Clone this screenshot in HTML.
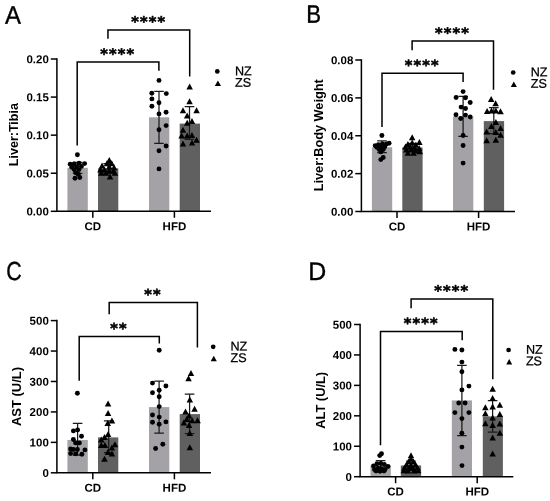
<!DOCTYPE html>
<html><head><meta charset="utf-8"><title>Figure</title>
<style>
html,body{margin:0;padding:0;background:#fff;}
svg{display:block;}
text{font-family:"Liberation Sans",Arial,sans-serif;fill:#000;}
.tk{font-size:11.5px;font-weight:700;}
.yt{font-size:12.4px;font-weight:700;}
.lg{font-size:12.6px;stroke:#000;stroke-width:0.25px;}
.st{font-family:"DejaVu Sans","Liberation Sans",sans-serif;font-size:14.5px;font-weight:700;letter-spacing:1.17px;stroke:#000;stroke-width:0.6px;stroke-linejoin:round;}
.pl{font-size:100px;stroke:#000;stroke-width:1.4px;}
</style></head>
<body>
<svg width="550" height="501" viewBox="0 0 550 501">
<rect width="550" height="501" fill="#fff"/>
<rect x="67.4" y="167.8" width="20.4" height="43.5" fill="#a4a2a7"/>
<rect x="98.0" y="168.3" width="20.3" height="43.0" fill="#606061"/>
<rect x="149.0" y="117.3" width="20.3" height="94.0" fill="#a4a2a7"/>
<rect x="179.7" y="123.6" width="20.3" height="87.7" fill="#606061"/>
<path d="M56.9 58.25V211.3H211" stroke="#000" stroke-width="1.5" fill="none" stroke-linejoin="miter"/>
<path d="M50.8 211.30H56.9" stroke="#000" stroke-width="1.5"/>
<text x="48.80" y="215.50" transform="rotate(0.03 48.80 215.50)" text-anchor="end" class="tk">0.00</text>
<path d="M50.8 173.23H56.9" stroke="#000" stroke-width="1.5"/>
<text x="48.80" y="177.43" transform="rotate(0.03 48.80 177.43)" text-anchor="end" class="tk">0.05</text>
<path d="M50.8 135.15H56.9" stroke="#000" stroke-width="1.5"/>
<text x="48.80" y="139.35" transform="rotate(0.03 48.80 139.35)" text-anchor="end" class="tk">0.10</text>
<path d="M50.8 97.08H56.9" stroke="#000" stroke-width="1.5"/>
<text x="48.80" y="101.28" transform="rotate(0.03 48.80 101.28)" text-anchor="end" class="tk">0.15</text>
<path d="M50.8 59.00H56.9" stroke="#000" stroke-width="1.5"/>
<text x="48.80" y="63.20" transform="rotate(0.03 48.80 63.20)" text-anchor="end" class="tk">0.20</text>
<path d="M92.8 211.3V217.8" stroke="#000" stroke-width="1.5"/>
<text x="92.80" y="230.20" transform="rotate(0.03 92.80 230.20)" text-anchor="middle" class="tk">CD</text>
<path d="M174.4 211.3V217.8" stroke="#000" stroke-width="1.5"/>
<text x="174.40" y="230.20" transform="rotate(0.03 174.40 230.20)" text-anchor="middle" class="tk">HFD</text>
<text transform="translate(18.4 134.6) rotate(-90) scale(1.01 1)" text-anchor="middle" class="yt">Liver:Tibia</text>
<path d="M77.6 162.3V173.3M72.8 162.3H82.4M72.8 173.3H82.4" stroke="#1a1a1a" stroke-width="1.25" fill="none"/>
<path d="M108.2 163.6V173.0M103.4 163.6H113.0M103.4 173.0H113.0" stroke="#1a1a1a" stroke-width="1.25" fill="none"/>
<path d="M159.0 91.3V143.3M154.2 91.3H163.8M154.2 143.3H163.8" stroke="#1a1a1a" stroke-width="1.25" fill="none"/>
<path d="M189.5 106.6V139.4M184.7 106.6H194.3M184.7 139.4H194.3" stroke="#1a1a1a" stroke-width="1.25" fill="none"/>
<g fill="#000">
<circle cx="77.4" cy="154.7" r="2.45"/><circle cx="70.2" cy="164.3" r="2.45"/><circle cx="74.2" cy="164.0" r="2.45"/><circle cx="79.0" cy="163.2" r="2.45"/><circle cx="84.6" cy="163.6" r="2.45"/><circle cx="71.8" cy="167.2" r="2.45"/><circle cx="76.6" cy="166.8" r="2.45"/><circle cx="81.4" cy="166.4" r="2.45"/><circle cx="74.2" cy="169.6" r="2.45"/><circle cx="79.0" cy="169.6" r="2.45"/><circle cx="75.8" cy="172.7" r="2.45"/><circle cx="78.2" cy="174.3" r="2.45"/><circle cx="75.0" cy="178.3" r="2.45"/><circle cx="79.8" cy="177.5" r="2.45"/>
<circle cx="159.0" cy="80.4" r="2.45"/><circle cx="151.8" cy="93.3" r="2.45"/><circle cx="166.3" cy="93.6" r="2.45"/><circle cx="151.9" cy="98.9" r="2.45"/><circle cx="159.0" cy="102.7" r="2.45"/><circle cx="151.9" cy="106.3" r="2.45"/><circle cx="166.1" cy="112.2" r="2.45"/><circle cx="159.0" cy="113.9" r="2.45"/><circle cx="166.1" cy="125.6" r="2.45"/><circle cx="159.0" cy="129.7" r="2.45"/><circle cx="166.1" cy="146.0" r="2.45"/><circle cx="159.0" cy="150.8" r="2.45"/><circle cx="159.0" cy="168.9" r="2.45"/>
<path d="M109.3 157.0L112.5 163.0H106.0Z"/><path d="M106.9 160.2L110.2 166.2H103.7Z"/><path d="M111.7 160.2L115.0 166.2H108.5Z"/><path d="M102.1 162.6L105.3 168.6H98.8Z"/><path d="M109.3 163.4L112.5 169.4H106.0Z"/><path d="M114.1 164.2L117.3 170.2H110.8Z"/><path d="M100.5 166.6L103.8 172.6H97.2Z"/><path d="M104.5 166.6L107.8 172.6H101.2Z"/><path d="M109.3 167.4L112.5 173.4H106.0Z"/><path d="M113.3 167.4L116.5 173.4H110.0Z"/><path d="M101.3 169.7L104.5 175.7H98.0Z"/><path d="M106.1 169.7L109.3 175.7H102.8Z"/><path d="M114.9 169.7L118.2 175.7H111.7Z"/><path d="M110.1 173.4L113.3 179.4H106.8Z"/>
<path d="M189.7 83.5L192.9 89.5H186.4Z"/><path d="M189.6 98.2L192.8 104.2H186.3Z"/><path d="M183.0 107.2L186.2 113.2H179.8Z"/><path d="M196.6 107.2L199.8 113.2H193.3Z"/><path d="M187.2 112.6L190.4 118.6H183.9Z"/><path d="M192.0 117.9L195.2 123.9H188.8Z"/><path d="M187.2 119.7L190.4 125.7H183.9Z"/><path d="M183.0 126.7L186.2 132.7H179.8Z"/><path d="M181.7 132.4L184.9 138.4H178.4Z"/><path d="M187.2 132.4L190.4 138.4H183.9Z"/><path d="M192.0 132.0L195.2 138.0H188.8Z"/><path d="M196.6 136.8L199.8 142.8H193.3Z"/><path d="M183.0 140.5L186.2 146.5H179.8Z"/><path d="M192.0 139.4L195.2 145.4H188.8Z"/>
</g>
<path d="M77.2 145.4V62.0H158.9V70.8" stroke="#000" stroke-width="1.5" fill="none"/>
<path d="M107.95 38.8V29.9H189.7V76.6" stroke="#000" stroke-width="1.5" fill="none"/>
<text x="100.36" y="58.90" transform="rotate(0.03 100.36 58.90)" class="st">****</text>
<text x="131.13" y="26.80" transform="rotate(0.03 131.13 26.80)" class="st">****</text>
<circle cx="217.3" cy="71.4" r="2.35"/>
<path d="M217.9 80.4L221.0 85.9H214.8Z"/>
<text x="235.00" y="75.20" transform="rotate(0.03 235.00 75.20)" class="lg">NZ</text>
<text x="235.00" y="86.70" transform="rotate(0.03 235.00 86.70)" class="lg">ZS</text>
<text transform="translate(4.9 23.8) rotate(0.03) scale(0.2394 0.2536)" class="pl">A</text>
<rect x="371.9" y="147.2" width="20.3" height="64.3" fill="#a4a2a7"/>
<rect x="402.3" y="147.5" width="20.3" height="64.0" fill="#606061"/>
<rect x="453.0" y="116.5" width="20.3" height="95.0" fill="#a4a2a7"/>
<rect x="483.8" y="121.1" width="20.3" height="90.4" fill="#606061"/>
<path d="M361.4 59.25V211.5H515" stroke="#000" stroke-width="1.5" fill="none" stroke-linejoin="miter"/>
<path d="M355.3 211.50H361.4" stroke="#000" stroke-width="1.5"/>
<text x="353.30" y="215.70" transform="rotate(0.03 353.30 215.70)" text-anchor="end" class="tk">0.00</text>
<path d="M355.3 173.62H361.4" stroke="#000" stroke-width="1.5"/>
<text x="353.30" y="177.82" transform="rotate(0.03 353.30 177.82)" text-anchor="end" class="tk">0.02</text>
<path d="M355.3 135.75H361.4" stroke="#000" stroke-width="1.5"/>
<text x="353.30" y="139.95" transform="rotate(0.03 353.30 139.95)" text-anchor="end" class="tk">0.04</text>
<path d="M355.3 97.88H361.4" stroke="#000" stroke-width="1.5"/>
<text x="353.30" y="102.08" transform="rotate(0.03 353.30 102.08)" text-anchor="end" class="tk">0.06</text>
<path d="M355.3 60.00H361.4" stroke="#000" stroke-width="1.5"/>
<text x="353.30" y="64.20" transform="rotate(0.03 353.30 64.20)" text-anchor="end" class="tk">0.08</text>
<path d="M397 211.5V218.0" stroke="#000" stroke-width="1.5"/>
<text x="397.00" y="230.40" transform="rotate(0.03 397.00 230.40)" text-anchor="middle" class="tk">CD</text>
<path d="M478.6 211.5V218.0" stroke="#000" stroke-width="1.5"/>
<text x="478.60" y="230.40" transform="rotate(0.03 478.60 230.40)" text-anchor="middle" class="tk">HFD</text>
<text transform="translate(323.2 135.3) rotate(-90) scale(1.025 1)" text-anchor="middle" class="yt">Liver:Body Weight</text>
<path d="M382.0 140.8V152.7M377.2 140.8H386.8M377.2 152.7H386.8" stroke="#1a1a1a" stroke-width="1.25" fill="none"/>
<path d="M412.4 143.3V151.2M407.6 143.3H417.2M407.6 151.2H417.2" stroke="#1a1a1a" stroke-width="1.25" fill="none"/>
<path d="M463.1 96.3V136.3M458.3 96.3H467.9M458.3 136.3H467.9" stroke="#1a1a1a" stroke-width="1.25" fill="none"/>
<path d="M493.8 107.7V133.6M489.0 107.7H498.6M489.0 133.6H498.6" stroke="#1a1a1a" stroke-width="1.25" fill="none"/>
<g fill="#000">
<circle cx="381.9" cy="135.5" r="2.45"/><circle cx="375.2" cy="145.6" r="2.45"/><circle cx="378.4" cy="144.8" r="2.45"/><circle cx="382.4" cy="144.0" r="2.45"/><circle cx="386.4" cy="144.0" r="2.45"/><circle cx="389.1" cy="143.2" r="2.45"/><circle cx="376.8" cy="147.2" r="2.45"/><circle cx="380.8" cy="147.2" r="2.45"/><circle cx="384.8" cy="146.8" r="2.45"/><circle cx="379.2" cy="149.6" r="2.45"/><circle cx="383.2" cy="149.6" r="2.45"/><circle cx="380.8" cy="151.9" r="2.45"/><circle cx="383.2" cy="157.5" r="2.45"/><circle cx="380.8" cy="159.6" r="2.45"/>
<circle cx="463.1" cy="91.6" r="2.45"/><circle cx="456.1" cy="97.5" r="2.45"/><circle cx="465.5" cy="97.8" r="2.45"/><circle cx="470.2" cy="102.5" r="2.45"/><circle cx="461.1" cy="107.1" r="2.45"/><circle cx="465.5" cy="108.5" r="2.45"/><circle cx="456.0" cy="114.7" r="2.45"/><circle cx="465.5" cy="115.1" r="2.45"/><circle cx="460.7" cy="118.5" r="2.45"/><circle cx="470.2" cy="117.0" r="2.45"/><circle cx="463.1" cy="135.5" r="2.45"/><circle cx="463.1" cy="145.5" r="2.45"/><circle cx="463.1" cy="163.1" r="2.45"/>
<path d="M412.2 134.3L415.4 140.3H408.9Z"/><path d="M419.4 139.0L422.6 145.0H416.1Z"/><path d="M412.2 139.4L415.4 145.4H408.9Z"/><path d="M407.9 141.0L411.1 147.0H404.6Z"/><path d="M415.9 141.8L419.1 147.8H412.6Z"/><path d="M405.5 143.4L408.8 149.4H402.2Z"/><path d="M410.3 143.4L413.6 149.4H407.1Z"/><path d="M414.3 144.2L417.6 150.2H411.1Z"/><path d="M419.1 145.0L422.4 151.0H415.9Z"/><path d="M406.3 146.6L409.6 152.6H403.1Z"/><path d="M411.1 146.6L414.4 152.6H407.9Z"/><path d="M415.9 147.4L419.1 153.4H412.6Z"/><path d="M419.9 148.2L423.1 154.2H416.6Z"/><path d="M407.9 149.7L411.1 155.7H404.6Z"/><path d="M413.5 149.7L416.8 155.7H410.2Z"/>
<path d="M491.2 96.0L494.4 102.0H487.9Z"/><path d="M495.6 100.2L498.9 106.2H492.4Z"/><path d="M487.1 107.9L490.4 113.9H483.9Z"/><path d="M491.5 107.4L494.8 113.4H488.2Z"/><path d="M495.9 107.4L499.1 113.4H492.6Z"/><path d="M500.5 108.3L503.8 114.3H497.2Z"/><path d="M495.9 119.1L499.1 125.1H492.6Z"/><path d="M491.4 122.9L494.6 128.9H488.1Z"/><path d="M500.6 125.1L503.9 131.1H497.4Z"/><path d="M486.6 128.4L489.9 134.4H483.4Z"/><path d="M495.8 129.1L499.1 135.1H492.6Z"/><path d="M500.6 131.7L503.9 137.7H497.4Z"/><path d="M486.6 137.2L489.9 143.2H483.4Z"/><path d="M495.8 136.8L499.1 142.8H492.6Z"/>
</g>
<path d="M382 127V73.3H463.1V82" stroke="#000" stroke-width="1.5" fill="none"/>
<path d="M412.1 50.2V41.0H493.5V89.8" stroke="#000" stroke-width="1.5" fill="none"/>
<text x="404.86" y="70.20" transform="rotate(0.03 404.86 70.20)" class="st">****</text>
<text x="435.11" y="37.90" transform="rotate(0.03 435.11 37.90)" class="st">****</text>
<circle cx="513.2" cy="72.5" r="2.35"/>
<path d="M513.8 81.5L516.9 87.0H510.8Z"/>
<text x="530.70" y="76.30" transform="rotate(0.03 530.70 76.30)" class="lg">NZ</text>
<text x="530.70" y="87.80" transform="rotate(0.03 530.70 87.80)" class="lg">ZS</text>
<text transform="translate(306.3 22.7) rotate(0.03) scale(0.2226 0.2536)" class="pl">B</text>
<rect x="67.4" y="440.0" width="20.4" height="32.8" fill="#a4a2a7"/>
<rect x="98.0" y="437.4" width="20.3" height="35.4" fill="#606061"/>
<rect x="149.0" y="407.1" width="20.3" height="65.7" fill="#a4a2a7"/>
<rect x="179.7" y="414.1" width="20.3" height="58.7" fill="#606061"/>
<path d="M56.9 319.85V472.8H211" stroke="#000" stroke-width="1.5" fill="none" stroke-linejoin="miter"/>
<path d="M50.8 472.80H56.9" stroke="#000" stroke-width="1.5"/>
<text x="48.80" y="477.00" transform="rotate(0.03 48.80 477.00)" text-anchor="end" class="tk">0</text>
<path d="M50.8 442.36H56.9" stroke="#000" stroke-width="1.5"/>
<text x="48.80" y="446.56" transform="rotate(0.03 48.80 446.56)" text-anchor="end" class="tk">100</text>
<path d="M50.8 411.92H56.9" stroke="#000" stroke-width="1.5"/>
<text x="48.80" y="416.12" transform="rotate(0.03 48.80 416.12)" text-anchor="end" class="tk">200</text>
<path d="M50.8 381.48H56.9" stroke="#000" stroke-width="1.5"/>
<text x="48.80" y="385.68" transform="rotate(0.03 48.80 385.68)" text-anchor="end" class="tk">300</text>
<path d="M50.8 351.04H56.9" stroke="#000" stroke-width="1.5"/>
<text x="48.80" y="355.24" transform="rotate(0.03 48.80 355.24)" text-anchor="end" class="tk">400</text>
<path d="M50.8 320.60H56.9" stroke="#000" stroke-width="1.5"/>
<text x="48.80" y="324.80" transform="rotate(0.03 48.80 324.80)" text-anchor="end" class="tk">500</text>
<path d="M92.8 472.8V479.3" stroke="#000" stroke-width="1.5"/>
<text x="92.80" y="491.70" transform="rotate(0.03 92.80 491.70)" text-anchor="middle" class="tk">CD</text>
<path d="M174.4 472.8V479.3" stroke="#000" stroke-width="1.5"/>
<text x="174.40" y="491.70" transform="rotate(0.03 174.40 491.70)" text-anchor="middle" class="tk">HFD</text>
<text transform="translate(21.1 396.5) rotate(-90) scale(1.045 1)" text-anchor="middle" class="yt">AST (U/L)</text>
<path d="M77.6 423.4V455.2M72.8 423.4H82.4M72.8 455.2H82.4" stroke="#1a1a1a" stroke-width="1.25" fill="none"/>
<path d="M108.7 420.9V452.7M103.9 420.9H113.5M103.9 452.7H113.5" stroke="#1a1a1a" stroke-width="1.25" fill="none"/>
<path d="M159.1 381.1V433.1M154.3 381.1H163.9M154.3 433.1H163.9" stroke="#1a1a1a" stroke-width="1.25" fill="none"/>
<path d="M189.6 394.0V433.7M184.8 394.0H194.4M184.8 433.7H194.4" stroke="#1a1a1a" stroke-width="1.25" fill="none"/>
<g fill="#000">
<circle cx="77.4" cy="393.2" r="2.45"/><circle cx="73.4" cy="430.9" r="2.45"/><circle cx="77.6" cy="429.9" r="2.45"/><circle cx="81.5" cy="436.3" r="2.45"/><circle cx="73.4" cy="439.5" r="2.45"/><circle cx="75.6" cy="442.9" r="2.45"/><circle cx="79.4" cy="442.9" r="2.45"/><circle cx="70.6" cy="448.9" r="2.45"/><circle cx="73.4" cy="449.5" r="2.45"/><circle cx="77.4" cy="449.5" r="2.45"/><circle cx="84.9" cy="449.9" r="2.45"/><circle cx="70.6" cy="453.5" r="2.45"/><circle cx="75.6" cy="453.9" r="2.45"/><circle cx="81.9" cy="454.3" r="2.45"/>
<circle cx="159.2" cy="350.3" r="2.45"/><circle cx="152.5" cy="383.1" r="2.45"/><circle cx="165.9" cy="386.0" r="2.45"/><circle cx="159.2" cy="390.3" r="2.45"/><circle cx="152.5" cy="392.7" r="2.45"/><circle cx="159.2" cy="396.8" r="2.45"/><circle cx="159.2" cy="406.6" r="2.45"/><circle cx="152.5" cy="415.0" r="2.45"/><circle cx="159.2" cy="417.1" r="2.45"/><circle cx="152.5" cy="422.2" r="2.45"/><circle cx="165.9" cy="421.9" r="2.45"/><circle cx="159.2" cy="424.3" r="2.45"/><circle cx="162.8" cy="444.2" r="2.45"/><circle cx="155.6" cy="448.5" r="2.45"/>
<path d="M108.1 400.6L111.3 406.6H104.8Z"/><path d="M108.1 409.9L111.3 415.9H104.8Z"/><path d="M111.9 417.5L115.2 423.5H108.7Z"/><path d="M107.7 419.9L111.0 425.9H104.5Z"/><path d="M108.1 430.9L111.3 436.9H104.8Z"/><path d="M104.5 433.9L107.8 439.9H101.2Z"/><path d="M101.3 436.5L104.5 442.5H98.0Z"/><path d="M101.3 441.9L104.5 447.9H98.0Z"/><path d="M104.9 441.9L108.2 447.9H101.7Z"/><path d="M114.9 441.3L118.2 447.3H111.7Z"/><path d="M111.9 444.5L115.2 450.5H108.7Z"/><path d="M107.9 448.9L111.2 454.9H104.7Z"/><path d="M111.9 450.5L115.2 456.5H108.7Z"/><path d="M104.5 455.8L107.8 461.8H101.2Z"/>
<path d="M191.0 370.1L194.2 376.1H187.8Z"/><path d="M188.6 375.3L191.8 381.3H185.3Z"/><path d="M189.8 396.4L193.1 402.4H186.6Z"/><path d="M194.6 405.7L197.8 411.7H191.3Z"/><path d="M185.5 408.4L188.8 414.4H182.2Z"/><path d="M189.1 412.4L192.3 418.4H185.8Z"/><path d="M183.8 419.6L187.1 425.6H180.6Z"/><path d="M186.7 416.0L189.9 422.0H183.4Z"/><path d="M192.2 417.2L195.4 423.2H188.9Z"/><path d="M197.5 417.2L200.8 423.2H194.2Z"/><path d="M189.1 422.0L192.3 428.0H185.8Z"/><path d="M189.8 429.9L193.1 435.9H186.6Z"/><path d="M189.8 444.3L193.1 450.3H186.6Z"/>
</g>
<path d="M79.2 380.7V336.6H159.3V343.4" stroke="#000" stroke-width="1.5" fill="none"/>
<path d="M109.2 314.3V302.5H197.4V347.4" stroke="#000" stroke-width="1.5" fill="none"/>
<text x="110.31" y="333.50" transform="rotate(0.03 110.31 333.50)" class="st">**</text>
<text x="144.35" y="299.40" transform="rotate(0.03 144.35 299.40)" class="st">**</text>
<circle cx="213.2" cy="346.8" r="2.35"/>
<path d="M213.8 355.8L216.8 361.3H210.7Z"/>
<text x="230.50" y="350.60" transform="rotate(0.03 230.50 350.60)" class="lg">NZ</text>
<text x="230.50" y="362.10" transform="rotate(0.03 230.50 362.10)" class="lg">ZS</text>
<text transform="translate(6.33 280.24) rotate(0.03) scale(0.2143 0.2606)" class="pl">C</text>
<rect x="370.5" y="465.5" width="20.3" height="11.2" fill="#a4a2a7"/>
<rect x="400.8" y="465.5" width="20.3" height="11.2" fill="#606061"/>
<rect x="451.8" y="400.4" width="20.2" height="76.3" fill="#a4a2a7"/>
<rect x="482.8" y="416.4" width="20.1" height="60.3" fill="#606061"/>
<path d="M360.1 323.75V476.7H513.3" stroke="#000" stroke-width="1.5" fill="none" stroke-linejoin="miter"/>
<path d="M354.0 476.70H360.1" stroke="#000" stroke-width="1.5"/>
<text x="352.00" y="480.90" transform="rotate(0.03 352.00 480.90)" text-anchor="end" class="tk">0</text>
<path d="M354.0 446.26H360.1" stroke="#000" stroke-width="1.5"/>
<text x="352.00" y="450.46" transform="rotate(0.03 352.00 450.46)" text-anchor="end" class="tk">100</text>
<path d="M354.0 415.82H360.1" stroke="#000" stroke-width="1.5"/>
<text x="352.00" y="420.02" transform="rotate(0.03 352.00 420.02)" text-anchor="end" class="tk">200</text>
<path d="M354.0 385.38H360.1" stroke="#000" stroke-width="1.5"/>
<text x="352.00" y="389.58" transform="rotate(0.03 352.00 389.58)" text-anchor="end" class="tk">300</text>
<path d="M354.0 354.94H360.1" stroke="#000" stroke-width="1.5"/>
<text x="352.00" y="359.14" transform="rotate(0.03 352.00 359.14)" text-anchor="end" class="tk">400</text>
<path d="M354.0 324.50H360.1" stroke="#000" stroke-width="1.5"/>
<text x="352.00" y="328.70" transform="rotate(0.03 352.00 328.70)" text-anchor="end" class="tk">500</text>
<path d="M395.6 476.7V483.2" stroke="#000" stroke-width="1.5"/>
<text x="395.60" y="495.60" transform="rotate(0.03 395.60 495.60)" text-anchor="middle" class="tk">CD</text>
<path d="M477.2 476.7V483.2" stroke="#000" stroke-width="1.5"/>
<text x="477.20" y="495.60" transform="rotate(0.03 477.20 495.60)" text-anchor="middle" class="tk">HFD</text>
<text transform="translate(325.2 400.3) rotate(-90) scale(1.035 1)" text-anchor="middle" class="yt">ALT (U/L)</text>
<path d="M380.6 460.5V470.5M375.8 460.5H385.4M375.8 470.5H385.4" stroke="#1a1a1a" stroke-width="1.25" fill="none"/>
<path d="M411.0 461.0V470.0M406.2 461.0H415.8M406.2 470.0H415.8" stroke="#1a1a1a" stroke-width="1.25" fill="none"/>
<path d="M461.9 365.3V435.5M457.1 365.3H466.7M457.1 435.5H466.7" stroke="#1a1a1a" stroke-width="1.25" fill="none"/>
<path d="M492.6 400.5V432.0M487.8 400.5H497.4M487.8 432.0H497.4" stroke="#1a1a1a" stroke-width="1.25" fill="none"/>
<g fill="#000">
<circle cx="379.7" cy="455.6" r="2.45"/><circle cx="381.5" cy="453.8" r="2.45"/><circle cx="373.5" cy="466.0" r="2.45"/><circle cx="377.0" cy="463.8" r="2.45"/><circle cx="380.8" cy="463.5" r="2.45"/><circle cx="384.3" cy="464.5" r="2.45"/><circle cx="388.0" cy="466.5" r="2.45"/><circle cx="374.5" cy="469.5" r="2.45"/><circle cx="378.0" cy="468.2" r="2.45"/><circle cx="381.5" cy="468.8" r="2.45"/><circle cx="385.0" cy="469.5" r="2.45"/><circle cx="376.0" cy="471.0" r="2.45"/><circle cx="380.0" cy="471.3" r="2.45"/><circle cx="384.0" cy="471.0" r="2.45"/>
<circle cx="454.9" cy="349.4" r="2.45"/><circle cx="461.9" cy="350.0" r="2.45"/><circle cx="461.9" cy="362.1" r="2.45"/><circle cx="461.9" cy="371.7" r="2.45"/><circle cx="468.9" cy="386.1" r="2.45"/><circle cx="461.9" cy="389.9" r="2.45"/><circle cx="458.7" cy="403.0" r="2.45"/><circle cx="465.1" cy="403.0" r="2.45"/><circle cx="454.9" cy="412.6" r="2.45"/><circle cx="468.9" cy="412.6" r="2.45"/><circle cx="461.9" cy="418.6" r="2.45"/><circle cx="461.9" cy="433.2" r="2.45"/><circle cx="461.9" cy="447.1" r="2.45"/><circle cx="462.0" cy="465.6" r="2.45"/>
<path d="M411.0 452.2L414.2 458.2H407.8Z"/><path d="M411.0 455.5L414.2 461.5H407.8Z"/><path d="M408.5 458.5L411.8 464.5H405.2Z"/><path d="M413.5 458.5L416.8 464.5H410.2Z"/><path d="M406.5 461.5L409.8 467.5H403.2Z"/><path d="M411.0 461.8L414.2 467.8H407.8Z"/><path d="M415.5 461.5L418.8 467.5H412.2Z"/><path d="M404.5 464.5L407.8 470.5H401.2Z"/><path d="M409.0 464.8L412.2 470.8H405.8Z"/><path d="M413.0 464.8L416.2 470.8H409.8Z"/><path d="M417.5 464.5L420.8 470.5H414.2Z"/><path d="M403.8 467.3L407.1 473.3H400.6Z"/><path d="M408.0 467.5L411.2 473.5H404.8Z"/><path d="M414.0 467.5L417.2 473.5H410.8Z"/><path d="M418.2 467.3L421.4 473.3H414.9Z"/>
<path d="M492.6 385.8L495.9 391.8H489.4Z"/><path d="M492.6 394.9L495.9 400.9H489.4Z"/><path d="M485.4 404.2L488.6 410.2H482.1Z"/><path d="M492.6 403.4L495.9 409.4H489.4Z"/><path d="M499.8 401.8L503.1 407.8H496.6Z"/><path d="M485.4 410.3L488.6 416.3H482.1Z"/><path d="M499.8 411.1L503.1 417.1H496.6Z"/><path d="M492.6 414.6L495.9 420.6H489.4Z"/><path d="M485.4 420.2L488.6 426.2H482.1Z"/><path d="M492.6 422.1L495.9 428.1H489.4Z"/><path d="M499.8 420.5L503.1 426.5H496.6Z"/><path d="M499.8 429.8L503.1 435.8H496.6Z"/><path d="M492.6 434.6L495.9 440.6H489.4Z"/><path d="M492.6 450.6L495.9 456.6H489.4Z"/>
</g>
<path d="M380.5 445.3V331.4H462.2V340.3" stroke="#000" stroke-width="1.5" fill="none"/>
<path d="M411.1 308.3V298.9H492.8V379.2" stroke="#000" stroke-width="1.5" fill="none"/>
<text x="403.66" y="328.30" transform="rotate(0.03 403.66 328.30)" class="st">****</text>
<text x="434.26" y="295.80" transform="rotate(0.03 434.26 295.80)" class="st">****</text>
<circle cx="508.6" cy="350" r="2.35"/>
<path d="M509.2 359.0L512.2 364.5H506.2Z"/>
<text x="525.90" y="353.80" transform="rotate(0.03 525.90 353.80)" class="lg">NZ</text>
<text x="525.90" y="365.30" transform="rotate(0.03 525.90 365.30)" class="lg">ZS</text>
<text transform="translate(308.3 280) rotate(0.03) scale(0.2492 0.2536)" class="pl">D</text>
</svg>
</body></html>
